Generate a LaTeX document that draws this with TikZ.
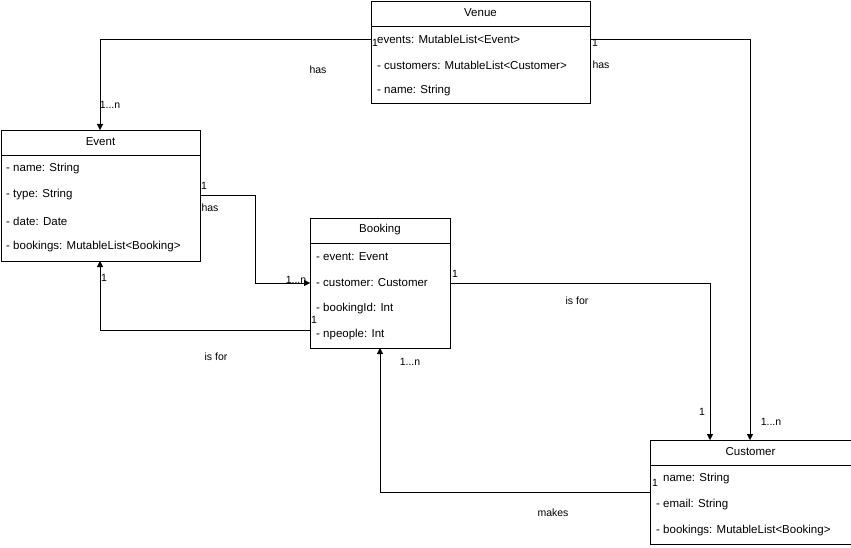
\documentclass[tikz,border=0pt]{standalone}
\usepackage{fontspec}
\setmainfont{Liberation Sans}
\usetikzlibrary{arrows.meta,positioning,calc}

\begin{document}
\begin{tikzpicture}[x=1pt,y=-1pt,
    every node/.style={font=\fontsize{11.5}{13}\selectfont},
    box/.style={draw, fill=white, thick},
    attr/.style={anchor=west, inner sep=0pt},
    lbl/.style={inner sep=0pt, font=\fontsize{10.5}{12}\selectfont},
    link/.style={draw, -{Triangle[length=6pt,width=6pt]}}]
  \useasboundingbox (0,0) rectangle (851,548);

  % Classes
  \draw[box] (371,1) rectangle (590,103); \draw (371,26) -- (590,26);
  \node (venue) at (480.5,13) {Venue};
  \node[attr] (venueA) at (377,39) {events: MutableList<Event>};
  \node[attr] at (377,65) {- customers: MutableList<Customer>};
  \node[attr] at (377,91) {- name: String};

  \draw[box] (1,130) rectangle (200,261); \draw (1,155) -- (200,155);
  \node (event) at (100.5,142) {Event};
  \node[attr] at (6,169) {- name: String};
  \node[attr] at (6,195) {- type: String};
  \node[attr] at (6,221) {- date: Date};
  \node[attr] at (6,247) {- bookings: MutableList<Booking>};

  \draw[box] (310,218) rectangle (450,348); \draw (310,243) -- (450,243);
  \node (booking) at (380,230) {Booking};
  \node[attr] at (316,257) {- event: Event};
  \node[attr] at (316,283) {- customer: Customer};
  \node[attr] at (316,309) {- bookingId: Int};
  \node[attr] at (316,335) {- npeople: Int};

  \draw[box] (650,440) rectangle (851,544); \draw (650,465) -- (851,465);
  \node (customer) at (750.5,452) {Customer};
  \node[attr] at (663,479) {name: String};
  \node[attr] at (656,505) {- email: String};
  \node[attr] at (656,531) {- bookings: MutableList<Booking>};

  % Anchor points
  \coordinate (vL) at (371,39);  \coordinate (vR) at (590,39);
  \coordinate (eT) at (100,130); \coordinate (eR) at (200,195);
  \coordinate (eB) at (100,261);
  \coordinate (bL) at (310,283); \coordinate (bL2) at (310,330);
  \coordinate (bR) at (450,283); \coordinate (bB) at (380,348);
  \coordinate (cT) at (710,440); \coordinate (cT2) at (750,440);
  \coordinate (cL) at (650,492);

  % Connectors
  \draw[link] (vL) -| (eT);
  \draw[link] (vR) -| (cT2);
  \draw[link] (eR) -- (255,195) |- (bL);
  \draw[link] (bL2) -| (eB);
  \draw[link] (bR) -| (cT);
  \draw[link] (cL) -| (bB);

  % Labels
  \node[lbl] at (375,43) {1};   \node[lbl] at (110,105) {1...n};
  \node[lbl] at (318,70) {has};
  \node[lbl] at (595,43) {1};   \node[lbl] at (601,65) {has};
  \node[lbl] at (771,422) {1...n};
  \node[lbl] at (204,186) {1};  \node[lbl] at (210,208) {has};
  \node[lbl] at (296,280) {1...n};
  \node[lbl] at (314,320) {1};  \node[lbl] at (104,278) {1};
  \node[lbl] at (216,357) {is for};
  \node[lbl] at (455,274) {1};  \node[lbl] at (577,301) {is for};
  \node[lbl] at (702,412) {1};
  \node[lbl] at (655,483) {1};  \node[lbl] at (410,362) {1...n};
  \node[lbl] at (553,513) {makes};
\end{tikzpicture}
\end{document}
